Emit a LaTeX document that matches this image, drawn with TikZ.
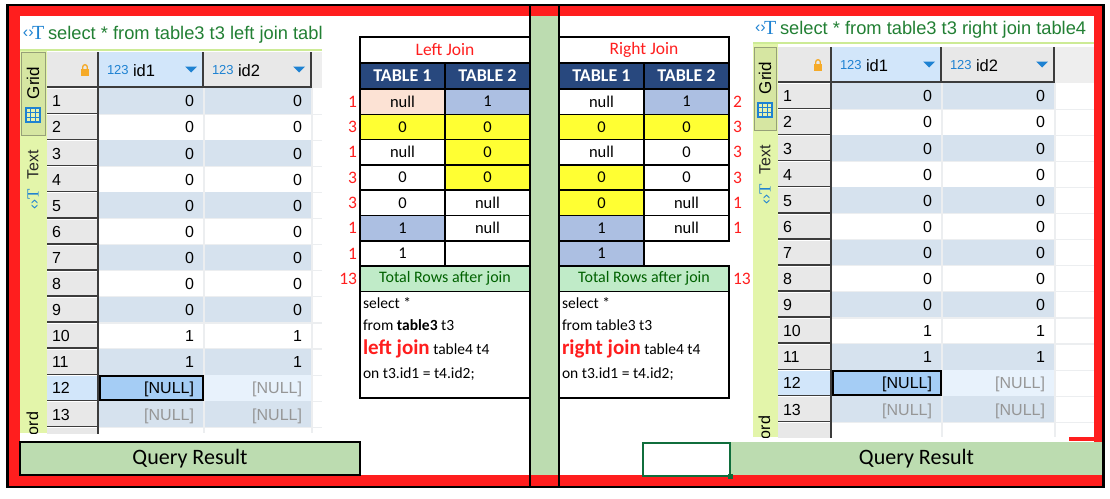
\documentclass[tikz,border=0pt]{standalone}
\usepackage{fontspec}
\setmainfont{Carlito}
\newfontfamily\scrfont{Liberation Sans}
\newfontfamily\serfont{Liberation Serif}
\usetikzlibrary{calc}
\newcommand\setfs[1]{\fontsize{#1}{#1}\selectfont}
\definecolor{redc}{RGB}{255,30,30}
\definecolor{stripg}{RGB}{188,220,176}
\definecolor{navy}{RGB}{40,72,126}
\definecolor{yel}{RGB}{255,255,51}
\definecolor{cblue}{RGB}{172,191,226}
\definecolor{salmon}{RGB}{252,226,212}
\definecolor{totg}{RGB}{192,235,200}
\definecolor{totgt}{RGB}{0,97,0}
\definecolor{xlgreen}{RGB}{16,110,60}
\definecolor{tabgreen}{RGB}{227,245,170}
\definecolor{gridtab}{RGB}{214,230,162}
\definecolor{gridtabb}{RGB}{150,160,120}
\definecolor{sepc}{RGB}{205,235,150}
\definecolor{hdrgray}{RGB}{232,232,232}
\definecolor{hdrgrayb}{RGB}{238,238,238}
\definecolor{hdrblue}{RGB}{210,230,250}
\definecolor{stripe}{RGB}{214,226,238}
\definecolor{rnsel}{RGB}{210,230,250}
\definecolor{cellsel}{RGB}{165,205,245}
\definecolor{rowsel}{RGB}{232,242,252}
\definecolor{gridc}{RGB}{236,238,240}
\definecolor{rnl}{RGB}{60,60,60}
\definecolor{nullg}{RGB}{150,150,150}
\definecolor{iconblue}{RGB}{30,130,210}
\definecolor{ttlgreen}{RGB}{34,128,52}
\definecolor{lockor}{RGB}{245,170,40}
\definecolor{iconfill}{RGB}{232,242,175}
\tikzset{
  jcell/.style={draw=black, line width=1.6, minimum width=85, minimum height=25.1, anchor=north west, font=\setfs{16.5}},
  cntl/.style={anchor=east, text=redc, font=\setfs{17.5}},
  cntr/.style={anchor=west, text=redc, font=\setfs{17.5}},
  sqlt/.style={anchor=base west, font=\setfs{15.5}},
  gline/.style={draw=gridc, line width=1.2},
  rnline/.style={draw=rnl, line width=1.6},
  sepline/.style={draw=sepc, line width=2},
  valt/.style={font=\scrfont\setfs{16}},
  frameline/.style={draw=black, line width=2.4},
}
% screenshot of the query result grid
\newcommand\drawshot[1]{%
\begin{scope}
\clip (\sTA,16) rectangle (\sCD,\sBot);
\node[anchor=base west, text=iconblue, font=\scrfont\setfs{16}] (#1ic) at (\sTX,\sTY-2) {‹›};
\node[anchor=base west, text=iconblue, font=\serfont\setfs{20}] (#1icT) at (\sTX+9,\sTY) {T};
\node[anchor=base west, text=ttlgreen, font=\scrfont\setfs{18.3}] (#1title) at (\sTX+25,\sTY) {\sTtl};
\fill[tabgreen] (\sTA,\sSep) rectangle (\sTB,\sBot);
\draw[sepline] (\sTA,\sSep) -- (\sCD,\sSep);
\draw[fill=gridtab, draw=gridtabb, line width=0.8] (\sTA+1,\sHT) rectangle (\sTB-2,\sHT+83);
\node[rotate=90, font=\scrfont\setfs{17}] (#1grid) at (\sTM,\sHT+31) {Grid};
\coordinate (#1gi) at (\sTM,\sHT+63);
\fill[iconfill] ([shift={(-7,-7)}]#1gi) rectangle ([shift={(7,7)}]#1gi);
\draw[iconblue, line width=1.2] ([shift={(-7,-7)}]#1gi) rectangle ([shift={(7,7)}]#1gi)
   ([shift={(-2.33,-7)}]#1gi) -- ++(0,14) ([shift={(2.33,-7)}]#1gi) -- ++(0,14)
   ([shift={(-7,-2.33)}]#1gi) -- ++(14,0) ([shift={(-7,2.33)}]#1gi) -- ++(14,0);
\node[rotate=90, text=black!85, font=\scrfont\setfs{16}] (#1text) at (\sTM,\sHT+113) {Text};
\node[rotate=90, text=iconblue, font=\scrfont\setfs{15}] (#1tic) at (\sTM,\sHT+147) {‹›{\serfont\setfs{17}T}};
\node[rotate=90, anchor=base east, font=\scrfont\setfs{16}] (#1rec) at (\sTM+5,\sBot-21) {Record};
% header
\fill[hdrgray] (\sTB,\sHT) rectangle (\sCC,\sHB);
\fill[hdrgrayb] (\sCC,\sHT) rectangle (\sCD,\sHB);
\fill[hdrblue] (\sCA,\sHT) rectangle (\sCB,\sHB);
\draw[rnline] (\sTB,\sHB-0.8) -- (\sCC,\sHB-0.8);
\draw[rnline] (\sCA-0.8,\sHT) -- (\sCA-0.8,\sHB);
\draw[rnline] (\sCB-0.8,\sHT) -- (\sCB-0.8,\sHB);
\draw[rnline] (\sCC-0.8,\sHT) -- (\sCC-0.8,\sHB);
\fill[lockor] (\sCA-18,\sHT+17) rectangle (\sCA-10,\sHT+24);
\draw[lockor, line width=1.3] (\sCA-16.3,\sHT+17) -- (\sCA-16.3,\sHT+15) arc[start angle=180, end angle=360, radius=2.3] -- (\sCA-11.7,\sHT+17);
\node[anchor=base west, text=iconblue, font=\scrfont\setfs{13}] (#1h1n) at (\sCA+8,\sHT+22) {123};
\node[anchor=base west, font=\scrfont\setfs{16.5}] (#1h1) at (\sCA+34,\sHT+24) {id1};
\fill[iconblue] (\sCB-19,\sHT+14.5) -- (\sCB-7,\sHT+14.5) -- (\sCB-13,\sHT+20.5) -- cycle;
\node[anchor=base west, text=iconblue, font=\scrfont\setfs{13}] (#1h2n) at (\sCB+8,\sHT+22) {123};
\node[anchor=base west, font=\scrfont\setfs{16.5}] (#1h2) at (\sCB+34,\sHT+24) {id2};
\fill[iconblue] (\sCC-19,\sHT+14.5) -- (\sCC-7,\sHT+14.5) -- (\sCC-13,\sHT+20.5) -- cycle;
% rows
\foreach \k in {1,...,14}{%
  \pgfmathsetmacro\ya{\sHB+\sRH*(\k-1)}%
  \pgfmathsetmacro\yb{\ya+\sRH}%
  \ifodd\k\relax \fill[stripe] (\sCA,\ya) rectangle (\sCC,\yb);\fi
  \fill[hdrgray] (\sTB,\ya) rectangle (\sCA,\yb);
  \draw[draw=white, line width=1] (\sTB,\ya+0.5) -- (\sCA,\ya+0.5);
  \draw[rnline] (\sTB,\yb-0.8) -- (\sCA,\yb-0.8);
  \draw[rnline] (\sCA-0.8,\ya) -- (\sCA-0.8,\yb);
  \draw[gline] (\sCA,\yb) -- (\sCD,\yb);
}
\draw[gline] (\sCB,\sHB) -- (\sCB,\sBot);
\draw[gline] (\sCC,\sHB) -- (\sCC,\sBot);
\pgfmathsetmacro\yta{\sHB+\sRH*11}%
\pgfmathsetmacro\ytb{\yta+\sRH}%
\fill[rnsel] (\sTB,\yta+1) rectangle (\sCA-1.6,\ytb-1.6);
\fill[rowsel] (\sCB+0.6,\yta) rectangle (\sCC-0.6,\ytb-0.6);
\draw[fill=cellsel, draw=black, line width=2] (\sCA+1,\yta+1) rectangle (\sCB-1,\ytb-1);
\foreach \k/\v in {1/0,2/0,3/0,4/0,5/0,6/0,7/0,8/0,9/0,10/1,11/1}{%
  \pgfmathsetmacro\yc{\sHB+\sRH*(\k-1)+18.8}%
  \node[valt, anchor=base west] (#1n\k) at (\sTB+5,\yc) {\k};
  \node[valt, anchor=base east] (#1a\k) at (\sCB-10,\yc) {\v};
  \node[valt, anchor=base east] (#1b\k) at (\sCC-10,\yc) {\v};
}
\pgfmathsetmacro\yc{\sHB+\sRH*11+18.8}%
\node[valt, anchor=base west] (#1n12) at (\sTB+5,\yc) {12};
\node[valt, anchor=base east] (#1a12) at (\sCB-10,\yc) {[NULL]};
\node[valt, anchor=base east, text=nullg] (#1b12) at (\sCC-10,\yc) {[NULL]};
\pgfmathsetmacro\yc{\sHB+\sRH*12+18.8}%
\node[valt, anchor=base west] (#1n13) at (\sTB+5,\yc) {13};
\node[valt, anchor=base east, text=nullg] (#1a13) at (\sCB-10,\yc) {[NULL]};
\node[valt, anchor=base east, text=nullg] (#1b13) at (\sCC-10,\yc) {[NULL]};
\end{scope}}
\begin{document}
\begin{tikzpicture}[x=1pt, y=-1pt, inner sep=0pt, outer sep=0pt]
\useasboundingbox (0,0) rectangle (1110,498);
\fill[white] (0,0) rectangle (1110,498);
% red frame
\fill[redc] (8,6) rectangle (1102,486);
\fill[white] (20,16) rectangle (1094,475);
% middle green strip
\fill[stripg] (530,16) rectangle (559,475);
% left screenshot
\def\sTA{20}\def\sTB{47}\def\sTM{33}\def\sCA{99}\def\sCB{204}\def\sCC{312}\def\sCD{322}
\def\sHT{52}\def\sHB{88}\def\sRH{26.1}\def\sBot{433}\def\sSep{50}\def\sTX{23}\def\sTY{39}
\def\sTtl{select * from table3 t3 left join tabl}
\drawshot{L}
% right screenshot
\def\sTA{753}\def\sTB{778}\def\sTM{765}\def\sCA{832}\def\sCB{942}\def\sCC{1055}\def\sCD{1094}
\def\sHT{47}\def\sHB{83}\def\sRH{26.1}\def\sBot{437}\def\sSep{43}\def\sTX{755}\def\sTY{34}
\def\sTtl{select * from table3 t3 right join table4}
\drawshot{R}
\fill[redc] (1069,437) rectangle (1094,441);
% ---------- Left Join table ----------
\node[jcell, minimum width=170, minimum height=26, text=redc, font=\setfs{17.5}] (LJt) at (360,37) {Left Join};
\node[jcell, minimum height=26, fill=navy, text=white, font=\bfseries\setfs{18}] (LJh1) at (360,63) {TABLE 1};
\node[jcell, minimum height=26, fill=navy, text=white, font=\bfseries\setfs{18}] (LJh2) at (445,63) {TABLE 2};
\foreach \r/\a/\fa/\b/\fb/\n in {1/null/salmon/1/cblue/1, 2/0/yel/0/yel/3, 3/null/white/0/yel/1,
   4/0/white/0/yel/3, 5/0/white/null/white/3, 6/1/cblue/null/white/1, 7/1/white//white/1}{%
  \pgfmathsetmacro\yy{89+25.3*(\r-1)}%
  \node[jcell, minimum height=25.3, fill=\fa] (LA\r) at (360,\yy) {\a};
  \node[jcell, minimum height=25.3, fill=\fb] (LB\r) at (445,\yy) {\b};
  \node[cntl] (LC\r) at (357,\yy+12.65) {\n};
}
\node[jcell, minimum width=170, minimum height=25.3, fill=totg, text=totgt, font=\setfs{16}] (LJtot) at (360,266.1) {Total Rows after join};
\node[cntl] (LCtot) at (357,278.8) {13};
\node[jcell, minimum width=170, minimum height=106.6] (LJsql) at (360,291.4) {};
\node[sqlt] (LS1) at (363,308.5) {select *};
\node[sqlt] (LS2) at (363,330.5) {from \textbf{table3} t3};
\node[sqlt] (LS3) at (363,354.5) {{\color{redc}\bfseries\setfs{21}left join} table4 t4};
\node[sqlt] (LS4) at (363,378.5) {on t3.id1 = t4.id2;};
% ---------- Right Join table ----------
\node[jcell, minimum width=170, minimum height=26, text=redc, font=\setfs{17.5}] (RJt) at (559,37) {Right Join};
\node[jcell, minimum height=26, fill=navy, text=white, font=\bfseries\setfs{18}] (RJh1) at (559,63) {TABLE 1};
\node[jcell, minimum height=26, fill=navy, text=white, font=\bfseries\setfs{18}] (RJh2) at (644,63) {TABLE 2};
\foreach \r/\a/\fa/\b/\fb/\n in {1/null/white/1/cblue/2, 2/0/yel/0/yel/3, 3/null/white/0/white/3,
   4/0/yel/0/white/3, 5/0/yel/null/white/1, 6/1/cblue/null/white/1}{%
  \pgfmathsetmacro\yy{89+25.3*(\r-1)}%
  \node[jcell, minimum height=25.3, fill=\fa] (RA\r) at (559,\yy) {\a};
  \node[jcell, minimum height=25.3, fill=\fb] (RB\r) at (644,\yy) {\b};
  \node[cntr] (RC\r) at (733,\yy+12.65) {\n};
}
\node[jcell, minimum height=25.3, fill=cblue] (RA7) at (559,240.8) {1};
\node[jcell, minimum width=170, minimum height=25.3, fill=totg, text=totgt, font=\setfs{16}] (RJtot) at (559,266.1) {Total Rows after join};
\node[cntr] (RCtot) at (733,278.8) {13};
\node[jcell, minimum width=170, minimum height=106.6] (RJsql) at (559,291.4) {};
\node[sqlt] (RS1) at (562,308.5) {select *};
\node[sqlt] (RS2) at (562,330.5) {from table3 t3};
\node[sqlt] (RS3) at (562,354.5) {{\color{redc}\bfseries\setfs{21}right join} table4 t4};
\node[sqlt] (RS4) at (562,378.5) {on t3.id1 = t4.id2;};
% ---------- bottom bars ----------
\node[draw=black, line width=1.6, fill=stripg, minimum width=340, minimum height=33, anchor=north west, font=\setfs{22}] (LQR) at (20,442) {Query Result};
\node[fill=stripg, minimum width=373, minimum height=33, anchor=north west, font=\setfs{22}] (RQR) at (730,442) {Query Result};
\node[draw=xlgreen, line width=2, minimum width=87, minimum height=33, anchor=north west] (XLsel) at (643,443) {};
\fill[xlgreen] (727.5,473.5) rectangle (732.5,478.5);
% ---------- black frame ----------
\draw[frameline] (7.5,5) rectangle (1103.5,487);
\draw[draw=black, line width=2] (530,5) -- (530,487);
\draw[draw=black, line width=2] (559,5) -- (559,487);
\end{tikzpicture}
\end{document}
